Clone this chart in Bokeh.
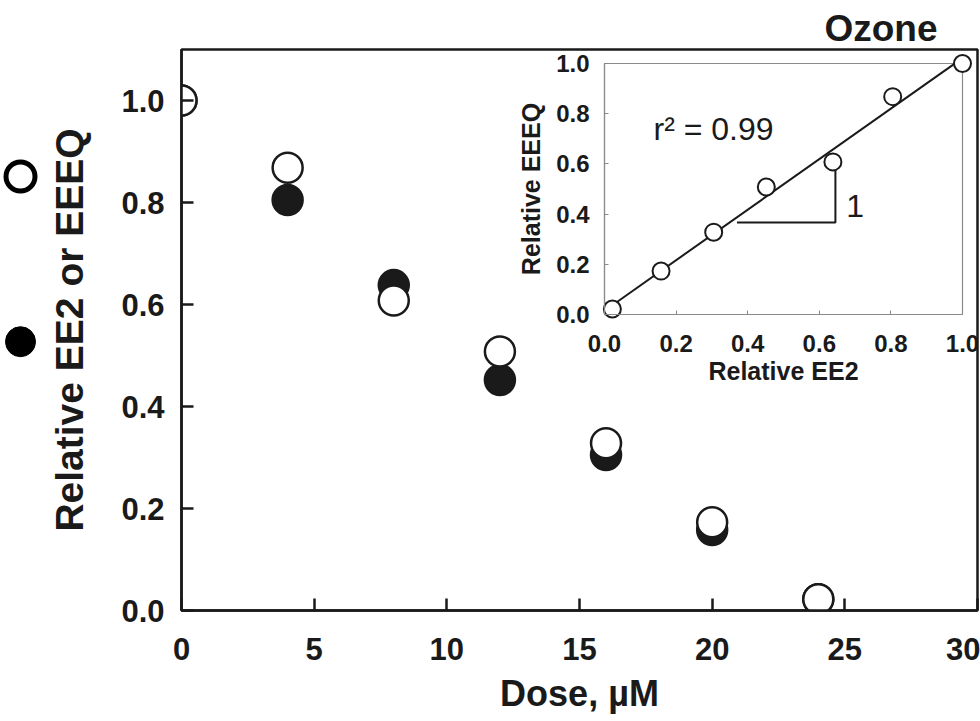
import numpy as np
from bokeh.plotting import figure
from bokeh.models import Range1d, LinearAxis, FixedTicker, Label, NumeralTickFormatter
from bokeh.layouts import row
from bokeh.embed import file_html
from bokeh.resources import INLINE

# ---------------- data ----------------
dose = [0, 4, 8, 12, 16, 20, 24]                                  # uM
ee2 = [1.0, 0.805, 0.638, 0.452, 0.305, 0.158, 0.022]             # relative EE2 (filled)
eeeq = [1.0, 0.868, 0.608, 0.508, 0.328, 0.173, 0.022]            # relative EEEQ (open)
x_ticks = [0, 5, 10, 15, 20, 25, 30]
y_ticks = [0.0, 0.2, 0.4, 0.6, 0.8, 1.0]
inset_ticks = [0.0, 0.2, 0.4, 0.6, 0.8, 1.0]
inset_lim = (0.0, 1.0)
slope_tri_x = [0.37, 0.645, 0.645]
slope_tri_y = [0.367, 0.367, 0.608]
r2_text = "r\u00b2 = 0.99"
slope_text = "1"
title_text = "Ozone"
legend_y = [0.851, 0.527]

FONT = "Liberation Sans"
INK = "#1a1a1a"
GRAY = "#8a8a8a"
H = 720
LW = 40
TOP = 49
BOTTOM = H - 610

# ---------------- main figure ----------------
p = figure(width=980 - LW, height=H, x_range=Range1d(0, 30), y_range=Range1d(0, 1.1),
           output_backend="svg", toolbar_location=None,
           min_border_left=181 - LW, min_border_right=3, min_border_top=TOP, min_border_bottom=BOTTOM)
p.background_fill_color = "white"
p.border_fill_color = "white"
p.grid.visible = False
p.outline_line_color = INK
p.outline_line_width = 2.5

p.title.text = title_text
p.title.align = "right"
p.title.offset = 40
p.title.standoff = 1
p.title.text_font = FONT
p.title.text_font_style = "bold"
p.title.text_font_size = "37px"
p.title.text_color = INK

p.xaxis.ticker = FixedTicker(ticks=x_ticks)
p.yaxis.ticker = FixedTicker(ticks=y_ticks)
p.yaxis.formatter = NumeralTickFormatter(format="0.0")
for ax in (p.xaxis, p.yaxis):
    ax.axis_line_color = INK
    ax.axis_line_width = 2.5
    ax.major_tick_line_color = INK
    ax.major_tick_line_width = 2.5
    ax.major_tick_in = 12
    ax.major_tick_out = 0
    ax.minor_tick_line_color = None
    ax.major_label_text_font = FONT
    ax.major_label_text_font_style = "bold"
    ax.major_label_text_font_size = "31px"
    ax.major_label_text_color = INK
    ax.axis_label_text_font = FONT
    ax.axis_label_text_font_style = "bold"
    ax.axis_label_text_color = INK
p.xaxis.major_label_standoff = 27
p.yaxis.major_label_standoff = 17
p.xaxis.axis_label = "Dose, \u00b5M"
p.xaxis.axis_label_text_font_size = "36px"
p.xaxis.axis_label_standoff = 10
p.yaxis.axis_label = "Relative EE2 or EEEQ"
p.yaxis.axis_label_text_font_size = "39px"
p.yaxis.axis_label_standoff = 27

p.scatter(dose, ee2, size=30, marker="circle", fill_color=INK, line_color=INK, line_width=2.5)
p.scatter(dose, eeeq, size=30, marker="circle", fill_color="white", line_color=INK, line_width=2.5)

# ---------------- inset (own ranges inside the main frame) ----------------
p.extra_x_ranges = {"ix": Range1d(-1.18156, 1.04190)}
p.extra_y_ranges = {"iy": Range1d(-1.17928, 1.05578)}

def style_inset_axis(ax):
    ax.ticker = FixedTicker(ticks=inset_ticks)
    ax.formatter = NumeralTickFormatter(format="0.0")
    ax.axis_line_color = GRAY
    ax.axis_line_width = 1.2
    ax.major_tick_line_color = GRAY
    ax.major_tick_line_width = 1
    ax.major_tick_in = 4
    ax.major_tick_out = 0
    ax.minor_tick_line_color = None
    ax.major_label_text_font = FONT
    ax.major_label_text_font_style = "bold"
    ax.major_label_text_font_size = "24px"
    ax.major_label_text_color = INK
    ax.axis_label_text_font = FONT
    ax.axis_label_text_font_style = "bold"
    ax.axis_label_text_font_size = "25px"
    ax.axis_label_text_color = INK

ixa = LinearAxis(x_range_name="ix", y_range_name="iy", fixed_location=inset_lim[0],
                 bounds=inset_lim, axis_label="Relative EE2")
style_inset_axis(ixa)
ixa.major_label_standoff = 20
ixa.axis_label_standoff = 2
p.add_layout(ixa, "below")

iya = LinearAxis(x_range_name="ix", y_range_name="iy", fixed_location=inset_lim[0],
                 bounds=inset_lim, axis_label="Relative EEEQ")
style_inset_axis(iya)
iya.major_label_standoff = 15
iya.axis_label_standoff = 8
p.add_layout(iya, "left")

p.quad(left=[inset_lim[0]], right=[inset_lim[1]], bottom=[inset_lim[0]], top=[inset_lim[1]],
       x_range_name="ix", y_range_name="iy", fill_color=None, line_color=GRAY, line_width=1.2)

slope, icpt = np.polyfit(ee2, eeeq, 1)
fit_x = [min(ee2), max(ee2)]
fit_y = [slope * v + icpt for v in fit_x]
p.line(fit_x, fit_y, x_range_name="ix", y_range_name="iy", line_color=INK, line_width=2)
p.line(slope_tri_x, slope_tri_y, x_range_name="ix", y_range_name="iy", line_color=INK, line_width=2)
p.scatter(ee2, eeeq, x_range_name="ix", y_range_name="iy", size=17, marker="circle",
          fill_color="white", line_color=INK, line_width=2)

p.add_layout(Label(x=0.137, y=0.741, x_range_name="ix", y_range_name="iy", text=r2_text,
                   text_align="left", text_baseline="alphabetic", text_font=FONT,
                   text_font_size="32px", text_color=INK))
p.add_layout(Label(x=0.70, y=0.434, x_range_name="ix", y_range_name="iy", text=slope_text,
                   text_align="center", text_baseline="middle", text_font=FONT,
                   text_font_size="32px", text_color=INK))

# ---------------- legend strip (symbols beside the y label) ----------------
lg = figure(width=LW, height=H, x_range=Range1d(0, LW), y_range=p.y_range,
            output_backend="svg", toolbar_location=None, x_axis_type=None, y_axis_type=None,
            min_border_left=0, min_border_right=0, min_border_top=TOP, min_border_bottom=BOTTOM)
lg.outline_line_color = None
lg.grid.visible = False
lg.background_fill_color = "white"
lg.border_fill_color = "white"
lg.scatter([20], [legend_y[0]], size=29, marker="circle", fill_color="white",
           line_color="black", line_width=5)
lg.scatter([20], [legend_y[1]], size=30, marker="circle", fill_color="black",
           line_color="black", line_width=1)

layout = row(lg, p)
open("out.html", "w").write(file_html(layout, INLINE))
